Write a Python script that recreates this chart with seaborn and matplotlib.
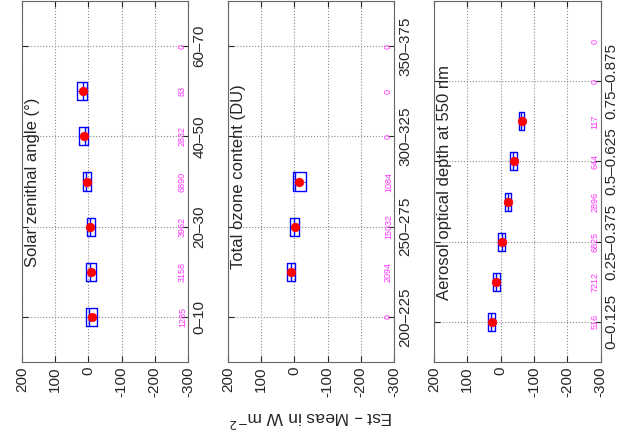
import numpy as np
import pandas as pd
import matplotlib
matplotlib.use("Agg")
import matplotlib.pyplot as plt
import seaborn as sns

# solar zenith angle classes
sza_labels = ["0–10", "10–20", "20–30", "30–40", "40–50", "50–60", "60–70"]
sza_counts = [1285, 3158, 3962, 6890, 2832, 83, 0]
sza_q1 = [-27, -23, -19, -7, 2, 3, np.nan]
sza_med = [-3, -6, -4, 6, 10, 17, np.nan]
sza_q3 = [7, 7, 3, 17, 27, 35, np.nan]
sza_mean = [-10, -9, -5, 5, 13, 17, np.nan]

# total ozone classes
oz_labels = ["200–225", "225–250", "250–275", "275–300", "300–325", "325–350", "350–375"]
oz_counts = [0, 2094, 15032, 1084, 0, 0, 0]
oz_q1 = [np.nan, -2, -15, -35, np.nan, np.nan, np.nan]
oz_med = [np.nan, 10, 1, -3, np.nan, np.nan, np.nan]
oz_q3 = [np.nan, 21, 13, 3, np.nan, np.nan, np.nan]
oz_mean = [np.nan, 11, -2, -13, np.nan, np.nan, np.nan]

# aerosol optical depth classes
aod_labels = ["0–0.125", "0.125–0.25", "0.25–0.375", "0.375–0.5",
              "0.5–0.625", "0.625–0.75", "0.75–0.875", "0.875–1"]
aod_counts = [516, 7212, 6825, 2896, 644, 117, 0, 0]
aod_q1 = [16, 3, -13, -32, -49, -69, np.nan, np.nan]
aod_med = [30, 14, -3, -22, -38, -62, np.nan, np.nan]
aod_q3 = [39, 23, 8, -13, -27, -55, np.nan, np.nan]
aod_mean = [25, 13, -4, -23, -39, -63, np.nan, np.nan]

sns.set_style("white")
plt.rcParams["font.family"] = ["Liberation Sans", "DejaVu Sans"]


def panel(ax, labels, counts, q1, med, q3, mean, title, title_y, width):
    pos = np.arange(len(labels))
    rows = []
    for p, a, m, b in zip(pos, q1, med, q3):
        if np.isnan(m):
            continue
        # five values whose quartiles are exactly q1 / median / q3
        rows += [(p, v) for v in (a, a, m, b, b)]
    df = pd.DataFrame(rows, columns=["pos", "val"])
    sns.boxplot(data=df, x="val", y="pos", orient="y", native_scale=True,
                width=width, fill=False, color="blue", linewidth=1,
                showcaps=False, fliersize=0, ax=ax)
    ax.hlines(pos, q1, q3, colors="blue", linestyles=(0, (2, 2)), lw=0.7)
    sns.scatterplot(x=mean, y=pos, color="red", edgecolor="red", s=38,
                    zorder=5, legend=False, ax=ax)
    for p, c in zip(pos, counts):
        ax.text(-283, p, str(c), rotation=90, ha="center", va="center",
                color="#ff33ff", fontsize=6.5)
    ax.text(168, title_y, title, rotation=90, ha="center", va="bottom",
            fontsize=12)

    ax.set_xlim(200, -300)
    ax.set_ylim(-1, len(labels))
    ax.set_xticks([200, 100, 0, -100, -200, -300])
    ax.set_xticklabels(["200", "100", "0", "-100", "-200", "-300"],
                       rotation=90, fontsize=11)
    ax.set_yticks(pos[::2])
    ax.set_yticklabels(labels[::2], rotation=90, va="center", fontsize=11)
    ax.tick_params(axis="y", left=True, right=True, labelleft=False,
                   labelright=True, direction="in", length=4, pad=3)
    ax.tick_params(axis="x", top=True, bottom=True, direction="in",
                   length=4, pad=3)
    ax.grid(True, ls=":", color="0.55", lw=0.8)
    for s in ax.spines.values():
        s.set_color("0.4")
        s.set_linewidth(0.8)
    ax.set_xlabel("")
    ax.set_ylabel("")


fig = plt.figure(figsize=(6.23, 4.38), dpi=100)
W, H = 623, 438
ax1 = fig.add_axes([22 / W, 76 / H, 166 / W, 361 / H])
ax2 = fig.add_axes([228 / W, 76 / H, 166 / W, 361 / H])
ax3 = fig.add_axes([434 / W, 76 / H, 166.5 / W, 361 / H])

panel(ax1, sza_labels, sza_counts, sza_q1, sza_med, sza_q3, sza_mean,
      "Solar zenithal angle (°)", 1.1, 0.4)
panel(ax2, oz_labels, oz_counts, oz_q1, oz_med, oz_q3, oz_mean,
      "Total ozone content (DU)", 1.05, 0.4)
panel(ax3, aod_labels, aod_counts, aod_q1, aod_med, aod_q3, aod_mean,
      "Aerosol optical depth at 550 nm", 0.55, 0.45)

ax2.set_xlabel("Est – Meas in W m$^{-2}$", rotation=180, fontsize=12.5,
               labelpad=8)

fig.savefig("out.png", dpi=100)
